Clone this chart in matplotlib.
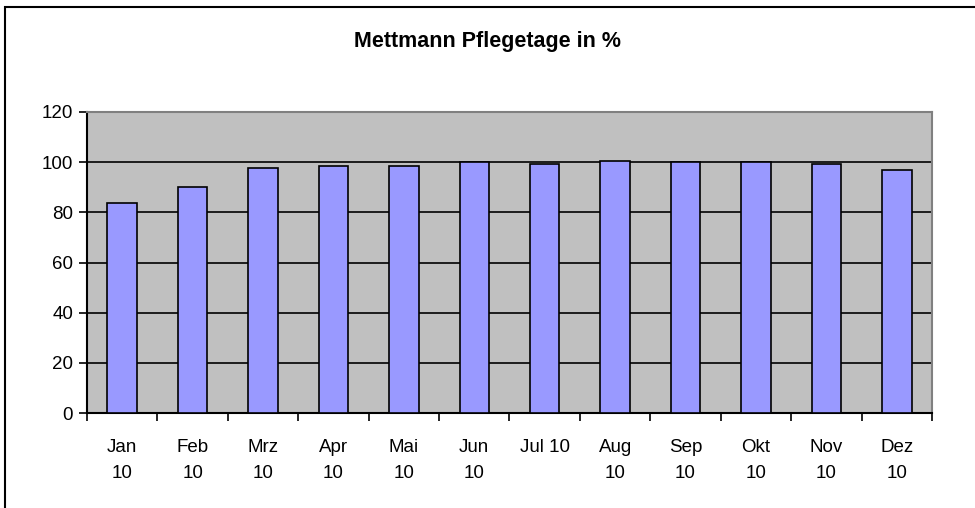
import matplotlib.pyplot as plt
from matplotlib.patches import Rectangle
import numpy as np

plt.rcParams['font.family'] = ['Liberation Sans', 'DejaVu Sans']

months = ["Jan\n10", "Feb\n10", "Mrz\n10", "Apr\n10", "Mai\n10", "Jun\n10",
          "Jul 10", "Aug\n10", "Sep\n10", "Okt\n10", "Nov\n10", "Dez\n10"]
values = [83.6, 90.2, 97.8, 98.5, 98.5, 100.0, 99.2, 100.5, 99.9, 100.0, 99.2, 97.0]
yticks = [0, 20, 40, 60, 80, 100, 120]

W, H = 975, 508
fig = plt.figure(figsize=(W / 100, H / 100), dpi=100)

# outer chart frame (cut off at right/bottom like the reference)
fig.patches.append(Rectangle((5 / W, -0.05), 1.1, 1 - 7 / H + 0.05, transform=fig.transFigure,
                             fill=False, edgecolor='black', linewidth=1.5))

ax = fig.add_axes([87 / W, (H - 413) / H, 845 / W, 301 / H])
ax.set_facecolor('#C0C0C0')

x = np.arange(len(months))
ax.bar(x, values, width=0.42, color='#9999FF', edgecolor='black', linewidth=1.2, zorder=3)

ax.set_xlim(-0.5, len(months) - 0.5)
ax.set_ylim(0, 120)
ax.set_yticks(yticks)
ax.set_yticklabels([str(v) for v in yticks], fontsize=13.5)
ax.yaxis.grid(True, color='black', linewidth=1.2, zorder=1)
ax.set_axisbelow(True)

ax.set_xticks(x)
ax.set_xticklabels(months, fontsize=13.5, linespacing=1.65, va='top')
ax.set_xticks(np.arange(-0.5, len(months)), minor=True)
ax.tick_params(axis='x', which='major', length=0, pad=19)
ax.tick_params(axis='x', which='minor', length=6, width=1.2, direction='out')
ax.tick_params(axis='y', length=6, width=1.2, direction='out', pad=4)

for s in ['left', 'bottom']:
    ax.spines[s].set_color('black')
    ax.spines[s].set_linewidth(1.5)
for s in ['top', 'right']:
    ax.spines[s].set_color('#808080')
    ax.spines[s].set_linewidth(1.5)

fig.text(0.5, (H - 42) / H, "Mettmann Pflegetage in %", ha='center', va='center',
         fontsize=15.5, fontweight='bold')

fig.savefig("out.png", dpi=100)
